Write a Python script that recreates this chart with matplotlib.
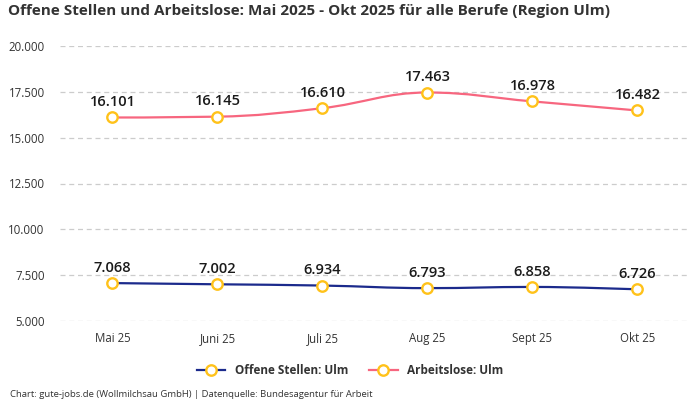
import numpy as np
import matplotlib.pyplot as plt
from matplotlib.path import Path
from matplotlib.patches import PathPatch
from matplotlib.lines import Line2D

plt.rcParams['font.family'] = ['Open Sans', 'DejaVu Sans']

# data
months = ['Mai 25', 'Juni 25', 'Juli 25', 'Aug 25', 'Sept 25', 'Okt 25']
offene = [7068, 7002, 6934, 6793, 6858, 6726]
arbeitslose = [16101, 16145, 16610, 17463, 16978, 16482]
yticks = [5000, 7500, 10000, 12500, 15000, 17500, 20000]

navy = '#1b2a8c'
pink = '#f7667f'
gold = '#ffc21a'
txt = '#333333'


def fmt(v):
    return '{:,}'.format(v).replace(',', '.')


def spline_path(xs, ys, smoothing=1.5):
    # highcharts-like spline: bezier control points per point
    n = len(xs)
    verts = [(xs[0], ys[0])]
    codes = [Path.MOVETO]
    ctrl = []
    for i in range(n):
        if i == 0 or i == n - 1:
            ctrl.append(((xs[i], ys[i]), (xs[i], ys[i])))
            continue
        d = smoothing + 1
        lx = (smoothing * xs[i] + xs[i - 1]) / d
        ly = (smoothing * ys[i] + ys[i - 1]) / d
        rx = (smoothing * xs[i] + xs[i + 1]) / d
        ry = (smoothing * ys[i] + ys[i + 1]) / d
        if rx != lx:
            corr = (ry - ly) * (rx - xs[i]) / (rx - lx) + ys[i] - ry
            ly += corr
            ry += corr
        if ly > ys[i - 1] and ly > ys[i]:
            ly = max(ys[i - 1], ys[i])
            ry = 2 * ys[i] - ly
        elif ly < ys[i - 1] and ly < ys[i]:
            ly = min(ys[i - 1], ys[i])
            ry = 2 * ys[i] - ly
        if ry > ys[i + 1] and ry > ys[i]:
            ry = max(ys[i + 1], ys[i])
            ly = 2 * ys[i] - ry
        elif ry < ys[i + 1] and ry < ys[i]:
            ry = min(ys[i + 1], ys[i])
            ly = 2 * ys[i] - ry
        ctrl.append(((lx, ly), (rx, ry)))
    for i in range(1, n):
        verts += [ctrl[i - 1][1], ctrl[i][0], (xs[i], ys[i])]
        codes += [Path.CURVE4] * 3
    return Path(verts, codes)


fig = plt.figure(figsize=(7, 4), dpi=100)
ax = fig.add_axes([0.0857, 0.1975, 0.9, 0.6875])

x = np.arange(len(months))
for vals, col in [(offene, navy), (arbeitslose, pink)]:
    ax.add_patch(PathPatch(spline_path(list(x), vals), facecolor='none', edgecolor=col, lw=1.6, zorder=3))
    ax.plot(x, vals, ls='none', marker='o', ms=7.5, mfc='white', mec=gold, mew=1.7, zorder=4)
    for xi, v in zip(x, vals):
        ax.annotate(fmt(v), (xi, v), xytext=(0, 6), textcoords='offset points',
                    ha='center', va='bottom', fontsize=10.5, fontweight='semibold', color='#1a1a1a')

ax.set_xlim(-0.5, len(months) - 0.5)
ax.set_ylim(5000, 20000)
ax.set_xticks(x)
ax.set_xticklabels(months)
ax.set_yticks(yticks)
ax.set_yticklabels([fmt(v) for v in yticks])
ax.tick_params(length=0, labelsize=8.3, colors=txt)
ax.tick_params(axis='x', pad=8)
ax.tick_params(axis='y', pad=11)
for s in ax.spines.values():
    s.set_visible(False)
ax.grid(axis='y', color='#cccccc', ls=(0, (4, 3)), lw=0.9)
ax.set_axisbelow(True)

fig.text(0.011, 0.99, 'Offene Stellen und Arbeitslose: Mai 2025 - Okt 2025 für alle Berufe (Region Ulm)',
         fontsize=11, fontweight='bold', color=txt, ha='left', va='top')

handles = [Line2D([], [], color=navy, lw=1.6, marker='o', ms=7.5, mfc='white', mec=gold, mew=1.7),
           Line2D([], [], color=pink, lw=1.6, marker='o', ms=7.5, mfc='white', mec=gold, mew=1.7)]
leg = fig.legend(handles, ['Offene Stellen: Ulm', 'Arbeitslose: Ulm'], loc='center',
                 bbox_to_anchor=(0.5, 0.0725), ncol=2, frameon=False, handlelength=2.4,
                 columnspacing=1.8, prop={'size': 8.5, 'weight': 'bold'})
for t in leg.get_texts():
    t.set_color(txt)

fig.text(0.014, 0.003, 'Chart: gute-jobs.de (Wollmilchsau GmbH) | Datenquelle: Bundesagentur für Arbeit',
         fontsize=6.8, color=txt, ha='left', va='bottom')

fig.savefig('out.png', dpi=100, facecolor='white')
